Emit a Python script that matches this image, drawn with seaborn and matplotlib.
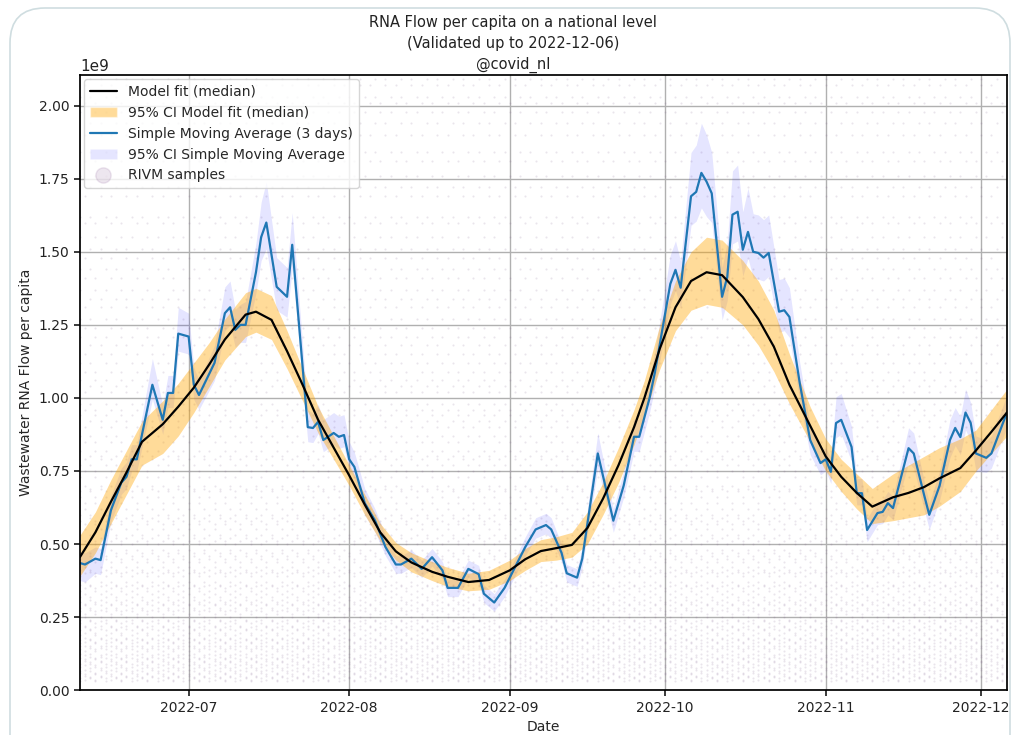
import datetime as dt

import matplotlib
matplotlib.use("Agg")
import matplotlib.dates as mdates
import matplotlib.pyplot as plt
import numpy as np
import pandas as pd
import seaborn as sns
from matplotlib.lines import Line2D
from matplotlib.patches import FancyBboxPatch, Patch
from matplotlib.ticker import MultipleLocator

# days counted from this date
start = dt.date(2022, 6, 10)
end = dt.date(2022, 12, 6)

# model fit (median) and its 95% CI, values in 1e9
model_days = [0, 3, 6, 9, 12, 16, 19, 22, 25, 28, 32, 34, 37, 40, 43, 46, 49, 52,
              55, 58, 61, 64, 68, 71, 75, 79, 83, 86, 89, 92, 95, 98, 101, 104,
              107, 109, 112, 115, 118, 121, 124, 128, 131, 134, 137, 141, 144,
              147, 150, 153, 157, 160, 163, 166, 170, 173, 176, 179]
model_med = [0.455, 0.54, 0.645, 0.745, 0.85, 0.91, 0.97, 1.035, 1.115, 1.20,
             1.285, 1.295, 1.267, 1.16, 1.045, 0.925, 0.83, 0.735, 0.635, 0.54,
             0.475, 0.437, 0.405, 0.388, 0.37, 0.377, 0.41, 0.448, 0.476, 0.486,
             0.497, 0.555, 0.655, 0.77, 0.90, 1.00, 1.17, 1.31, 1.40, 1.43, 1.42,
             1.345, 1.27, 1.175, 1.045, 0.905, 0.80, 0.73, 0.675, 0.628, 0.66,
             0.675, 0.695, 0.725, 0.76, 0.82, 0.884, 0.95]
model_lo = [0.39, 0.47, 0.57, 0.67, 0.77, 0.81, 0.87, 0.95, 1.04, 1.13, 1.21,
            1.225, 1.20, 1.10, 0.99, 0.88, 0.79, 0.70, 0.60, 0.51, 0.445, 0.405,
            0.375, 0.355, 0.34, 0.345, 0.375, 0.41, 0.44, 0.445, 0.455, 0.50,
            0.60, 0.71, 0.84, 0.94, 1.10, 1.23, 1.30, 1.32, 1.31, 1.25, 1.18,
            1.09, 0.98, 0.85, 0.75, 0.68, 0.62, 0.57, 0.58, 0.59, 0.60, 0.63,
            0.68, 0.75, 0.81, 0.87]
model_hi = [0.53, 0.61, 0.72, 0.82, 0.92, 0.99, 1.05, 1.12, 1.19, 1.27, 1.36,
            1.375, 1.35, 1.23, 1.10, 0.97, 0.87, 0.77, 0.67, 0.57, 0.505, 0.47,
            0.44, 0.42, 0.40, 0.41, 0.445, 0.485, 0.515, 0.525, 0.54, 0.61,
            0.71, 0.83, 0.96, 1.06, 1.25, 1.40, 1.50, 1.55, 1.54, 1.47, 1.40,
            1.30, 1.15, 0.97, 0.86, 0.79, 0.74, 0.69, 0.74, 0.77, 0.80, 0.83,
            0.86, 0.89, 0.96, 1.03]

# simple moving average (3 days) and its 95% CI offsets, values in 1e9
sma_days = [0, 1, 3, 4, 6, 8, 9, 10, 11, 14, 16, 17, 18, 19, 21, 22, 23, 26, 28,
            29, 30, 31, 32, 34, 35, 36, 38, 40, 41, 44, 45, 46, 47, 49, 50, 51,
            52, 53, 55, 57, 59, 61, 62, 64, 66, 68, 70, 71, 73, 75, 77, 78, 80,
            82, 84, 86, 88, 90, 91, 93, 94, 96, 97, 100, 103, 105, 107, 108, 110,
            111, 114, 115, 116, 118, 119, 120, 121, 122, 124, 125, 126, 127, 128,
            129, 130, 131, 132, 133, 135, 136, 137, 139, 141, 143, 144, 145, 146,
            147, 149, 150, 151, 152, 154, 155, 156, 157, 160, 161, 163, 164, 166,
            168, 169, 170, 171, 172, 173, 175, 176, 179]
sma_val = [0.435, 0.43, 0.45, 0.445, 0.616, 0.71, 0.73, 0.79, 0.79, 1.045, 0.925,
           1.017, 1.017, 1.22, 1.21, 1.045, 1.01, 1.12, 1.29, 1.31, 1.233, 1.25,
           1.25, 1.43, 1.55, 1.60, 1.38, 1.346, 1.524, 0.90, 0.897, 0.918, 0.856,
           0.88, 0.867, 0.873, 0.79, 0.764, 0.64, 0.58, 0.49, 0.43, 0.43, 0.45,
           0.415, 0.455, 0.41, 0.35, 0.35, 0.415, 0.397, 0.33, 0.30, 0.35, 0.42,
           0.49, 0.55, 0.565, 0.55, 0.47, 0.40, 0.385, 0.45, 0.81, 0.58, 0.70,
           0.867, 0.867, 1.00, 1.085, 1.39, 1.438, 1.377, 1.69, 1.705, 1.77, 1.74,
           1.70, 1.346, 1.414, 1.627, 1.637, 1.507, 1.568, 1.50, 1.496, 1.48,
           1.496, 1.295, 1.30, 1.277, 1.05, 0.856, 0.777, 0.79, 0.747, 0.914,
           0.925, 0.832, 0.674, 0.674, 0.548, 0.606, 0.61, 0.64, 0.623, 0.828,
           0.81, 0.668, 0.60, 0.70, 0.856, 0.897, 0.866, 0.95, 0.914, 0.81, 0.795,
           0.81, 0.95]
sma_up = [0.04, 0.04, 0.04, 0.04, 0.05, 0.05, 0.05, 0.05, 0.05, 0.09, 0.05, 0.06,
          0.06, 0.09, 0.08, 0.06, 0.05, 0.06, 0.09, 0.09, 0.07, 0.07, 0.08, 0.10,
          0.12, 0.14, 0.10, 0.10, 0.11, 0.06, 0.05, 0.06, 0.07, 0.07, 0.07, 0.07,
          0.06, 0.05, 0.05, 0.04, 0.04, 0.03, 0.03, 0.03, 0.03, 0.03, 0.03, 0.03,
          0.03, 0.03, 0.03, 0.03, 0.03, 0.03, 0.03, 0.035, 0.04, 0.04, 0.04, 0.03,
          0.03, 0.03, 0.04, 0.07, 0.04, 0.05, 0.06, 0.06, 0.07, 0.07, 0.10, 0.10,
          0.09, 0.15, 0.16, 0.17, 0.16, 0.14, 0.10, 0.12, 0.15, 0.16, 0.13, 0.15,
          0.13, 0.13, 0.13, 0.13, 0.11, 0.11, 0.10, 0.07, 0.05, 0.04, 0.04, 0.05,
          0.09, 0.09, 0.07, 0.05, 0.05, 0.04, 0.04, 0.04, 0.04, 0.04, 0.07, 0.07,
          0.05, 0.04, 0.05, 0.07, 0.07, 0.07, 0.08, 0.07, 0.06, 0.06, 0.06, 0.06]
sma_dn = [0.06, 0.06, 0.05, 0.05, 0.04, 0.04, 0.04, 0.04, 0.04, 0.05, 0.05, 0.05,
          0.05, 0.06, 0.06, 0.05, 0.05, 0.06, 0.06, 0.06, 0.06, 0.06, 0.06, 0.07,
          0.08, 0.09, 0.08, 0.07, 0.08, 0.05, 0.05, 0.04, 0.04, 0.04, 0.04, 0.04,
          0.04, 0.04, 0.04, 0.04, 0.03, 0.03, 0.03, 0.03, 0.03, 0.03, 0.03, 0.03,
          0.03, 0.03, 0.03, 0.03, 0.03, 0.03, 0.03, 0.03, 0.03, 0.03, 0.03, 0.03,
          0.03, 0.03, 0.03, 0.05, 0.04, 0.04, 0.05, 0.05, 0.05, 0.05, 0.07, 0.07,
          0.07, 0.10, 0.10, 0.12, 0.12, 0.10, 0.08, 0.08, 0.10, 0.10, 0.09, 0.09,
          0.09, 0.09, 0.08, 0.08, 0.07, 0.07, 0.07, 0.06, 0.05, 0.04, 0.04, 0.04,
          0.05, 0.05, 0.05, 0.04, 0.04, 0.04, 0.04, 0.04, 0.04, 0.04, 0.05, 0.05,
          0.05, 0.05, 0.05, 0.06, 0.06, 0.06, 0.06, 0.06, 0.06, 0.05, 0.05, 0.05]

# RIVM sample values (1e9), two sets per day in turn
sample_sets = [
    [0.03, 0.06, 0.08, 0.11, 0.14, 0.16, 0.19, 0.23, 0.27, 0.30, 0.34, 0.39,
     0.45, 0.50, 0.58, 0.66, 0.73, 0.82, 0.94, 1.06, 1.21, 1.37, 1.55, 1.76, 1.98],
    [0.05, 0.07, 0.10, 0.12, 0.15, 0.18, 0.22, 0.25, 0.29, 0.33, 0.37, 0.42,
     0.48, 0.55, 0.62, 0.70, 0.79, 0.90, 1.02, 1.15, 1.31, 1.48, 1.69, 1.90, 2.07],
    [0.04, 0.065, 0.09, 0.125, 0.15, 0.17, 0.205, 0.24, 0.28, 0.32, 0.36, 0.41,
     0.46, 0.53, 0.60, 0.68, 0.77, 0.87, 0.98, 1.12, 1.27, 1.44, 1.62, 1.84, 2.03],
    [0.035, 0.055, 0.085, 0.105, 0.135, 0.165, 0.195, 0.215, 0.26, 0.295, 0.35,
     0.40, 0.44, 0.51, 0.57, 0.64, 0.75, 0.85, 0.96, 1.09, 1.24, 1.41, 1.60, 1.81,
     2.01],
    [0.045, 0.075, 0.095, 0.115, 0.145, 0.175, 0.21, 0.235, 0.275, 0.31, 0.355,
     0.405, 0.47, 0.52, 0.59, 0.69, 0.80, 0.92, 1.04, 1.18, 1.34, 1.51, 1.72,
     1.94, 2.09],
]


def to_dates(days):
    return [pd.Timestamp(start + dt.timedelta(days=d)) for d in days]


model = pd.DataFrame({"date": to_dates(model_days),
                      "med": np.array(model_med) * 1e9,
                      "lo": np.array(model_lo) * 1e9,
                      "hi": np.array(model_hi) * 1e9})
sma = pd.DataFrame({"date": to_dates(sma_days),
                    "val": np.array(sma_val) * 1e9,
                    "lo": (np.array(sma_val) - np.array(sma_dn)) * 1e9,
                    "hi": (np.array(sma_val) + np.array(sma_up)) * 1e9})

rows = []
n = len(sample_sets)
for i, d in enumerate(pd.date_range(start, end)):
    for v in sample_sets[i % n] + sample_sets[(i + 2) % n]:
        rows.append({"date": d, "val": v * 1e9})
samples = pd.DataFrame(rows)

sns.set_theme(style="ticks", rc={"axes.grid": True, "grid.color": "#b0b0b0",
                                 "axes.edgecolor": "black"})
plt.rcParams["font.family"] = ["DejaVu Sans"]

fig = plt.figure(figsize=(10.11, 7.35), dpi=100)
ax = fig.add_axes([0.079, 0.061, 0.917, 0.837])

sns.scatterplot(data=samples, x="date", y="val", ax=ax, s=2.2, color="#7d5a8c",
                alpha=0.16, linewidth=0, legend=False)
ax.fill_between(sma["date"], sma["lo"], sma["hi"], color="blue", alpha=0.1,
                linewidth=0)
ax.fill_between(model["date"], model["lo"], model["hi"], color="orange",
                alpha=0.4, linewidth=0)
sns.lineplot(data=sma, x="date", y="val", ax=ax, color="#1f77b4", lw=1.6)
sns.lineplot(data=model, x="date", y="med", ax=ax, color="black", lw=1.6)

ax.set_xlim(pd.Timestamp(start), pd.Timestamp(end))
ax.set_ylim(0, 2.105e9)
ax.yaxis.set_major_locator(MultipleLocator(0.25e9))
ax.xaxis.set_major_locator(mdates.MonthLocator())
ax.xaxis.set_major_formatter(mdates.DateFormatter("%Y-%m"))
ax.tick_params(labelsize=10, colors="#222222", length=4)
ax.set_xlabel("Date", fontsize=10)
ax.set_ylabel("Wastewater RNA Flow per capita", fontsize=10)
fig.text(513 / 1011, 1 - 15 / 735,
         "RNA Flow per capita on a national level\n"
         "(Validated up to 2022-12-06)\n@covid_nl",
         ha="center", va="top", fontsize=10.5, linespacing=1.5, color="#222222")

handles = [
    Line2D([], [], color="black", lw=1.6),
    Patch(facecolor="orange", alpha=0.4),
    Line2D([], [], color="#1f77b4", lw=1.6),
    Patch(facecolor="blue", alpha=0.1),
    Line2D([], [], ls="", marker="o", markersize=11, color="#8a5a96",
           alpha=0.15),
]
labels = ["Model fit (median)", "95% CI Model fit (median)",
          "Simple Moving Average (3 days)", "95% CI Simple Moving Average",
          "RIVM samples"]
ax.legend(handles, labels, loc="upper left", fontsize=10, framealpha=0.8,
          borderaxespad=0.3, handlelength=2.0)

# rounded frame from the screenshot
frame = FancyBboxPatch((0.10, -0.5), 10.0, 7.77,
                       boxstyle="round,pad=0,rounding_size=0.35",
                       transform=fig.dpi_scale_trans, facecolor="none",
                       edgecolor="#cfdde0", lw=1.2)
fig.patches.append(frame)

fig.savefig("out.png", dpi=100)
